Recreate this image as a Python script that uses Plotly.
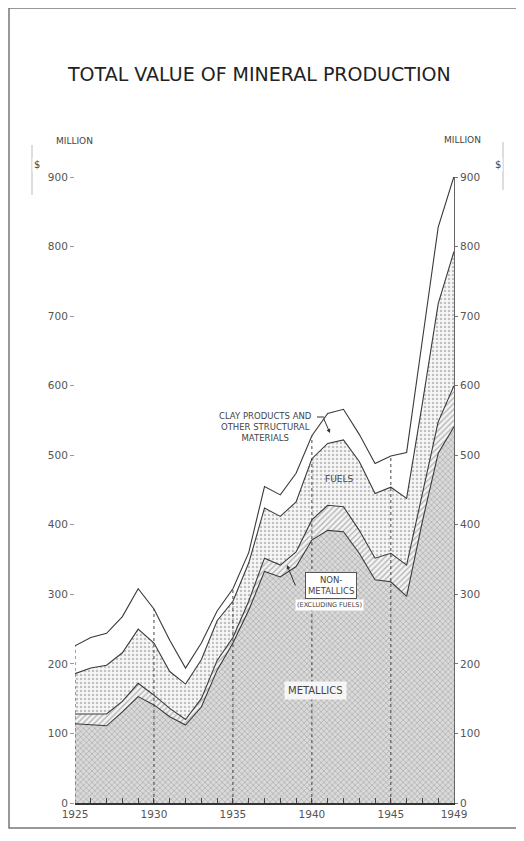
import plotly.graph_objects as go

# ---------------- data (million $) ----------------
years = list(range(1925, 1950))
metallics = [114, 112, 111, 131, 153, 141, 124, 112, 138, 191, 230, 277, 333,
             325, 340, 378, 392, 390, 359, 321, 318, 297, 405, 503, 541]
non_metallics = [14, 16, 17, 15, 19, 14, 12, 8, 12, 14, 8, 13, 19,
                 17, 21, 29, 36, 36, 33, 31, 41, 45, 40, 45, 59]
fuels = [58, 66, 70, 70, 78, 75, 53, 51, 56, 57, 52, 55, 72,
         70, 72, 88, 89, 96, 99, 93, 95, 96, 130, 170, 193]
clay_products = [40, 44, 46, 52, 58, 49, 45, 23, 24, 14, 18, 15, 31,
                 31, 41, 33, 43, 44, 39, 43, 45, 66, 91, 110, 108]
y_ticks = [0, 100, 200, 300, 400, 500, 600, 700, 800, 900]
x_label_years = [1925, 1930, 1935, 1940, 1945, 1949]
grid_years = [1925, 1930, 1935, 1940, 1945]

totals = [a + b + c + d for a, b, c, d in zip(metallics, non_metallics, fuels, clay_products)]

# ---------------- layout geometry (pixels) ----------------
OFF = 8                      # page body margin
W, H = 524 - OFF, 841 - OFF
L, R, T, B = 75 - OFF, 70, 177 - OFF, 38
PW, PH = W - L - R, H - T - B


def px(x):   # screen pixel x -> paper
    return (x - OFF - L) / PW


def py(y):   # screen pixel y -> paper
    return (H - B - (y - OFF)) / PH


def yr(x):   # screen pixel x -> year
    return 1925 + px(x) * 24


def val(y):  # screen pixel y -> value
    return py(y) * 900


LINE = "#3a3a3a"
TXT = "#555555"
FONT = "DejaVu Sans"

fig = go.Figure()

layers = [
    ("Metallics", metallics, dict(shape="x", size=4, solidity=0.28, fgcolor="#6e6e6e", bgcolor="#dadada")),
    ("Non-metallics (excluding fuels)", non_metallics, dict(shape="/", size=4, solidity=0.3, fgcolor="#6a6a6a", bgcolor="#f4f4f4")),
    ("Fuels", fuels, dict(shape=".", size=4, solidity=0.3, fgcolor="#8a8a8a", bgcolor="#f7f7f7")),
    ("Clay products and other structural materials", clay_products, None),
]
for name, vals, pat in layers:
    kw = dict(x=years, y=vals, name=name, mode="lines", stackgroup="one",
              line=dict(color=LINE, width=1.1), showlegend=False, hoverinfo="skip")
    if pat:
        kw["fillpattern"] = pat
        kw["fillcolor"] = pat["bgcolor"]
    else:
        kw["fillcolor"] = "white"
    fig.add_trace(go.Scatter(**kw))

# dotted vertical guide lines from base to total
gx, gy = [], []
for g in grid_years:
    i = years.index(g)
    gx += [g, g, None]
    gy += [0, totals[i], None]
fig.add_trace(go.Scatter(x=gx, y=gy, mode="lines", line=dict(color="#444444", width=1, dash="dot"),
                         showlegend=False, hoverinfo="skip"))

# right axis carrier trace
fig.add_trace(go.Scatter(x=[years[-1]], y=[0], yaxis="y2", mode="markers",
                         marker=dict(opacity=0), showlegend=False, hoverinfo="skip"))

fig.update_layout(
    width=W, height=H, margin=dict(l=L, r=R, t=T, b=B),
    paper_bgcolor="white", plot_bgcolor="white",
    font=dict(family=FONT, color=TXT, size=10),
    xaxis=dict(range=[1925, 1949], tickvals=years,
               ticktext=[str(y) if y in x_label_years else "" for y in years],
               ticks="inside", ticklen=5, tickcolor="#444", tickwidth=1,
               showline=True, linecolor="#333", linewidth=2, showgrid=False, zeroline=False,
               tickfont=dict(size=10.5, color=TXT, family=FONT)),
    yaxis=dict(range=[0, 900], tickvals=y_ticks, ticks="outside", ticklen=4, tickcolor="#999",
               showgrid=False, zeroline=False, showline=False,
               tickfont=dict(size=10.5, color=TXT, family=FONT)),
    yaxis2=dict(range=[0, 900], tickvals=y_ticks, overlaying="y", side="right", ticks="outside",
                ticklen=3, tickcolor="#777", showline=True, linecolor="#666", linewidth=1,
                showgrid=False, zeroline=False, tickfont=dict(size=10.5, color=TXT, family=FONT)),
)

ann = []
# title
ann.append(dict(text="TOTAL VALUE OF MINERAL PRODUCTION", x=px(259), y=py(61), xref="paper", yref="paper",
                showarrow=False, font=dict(size=19, color="#222", family=FONT)))
# unit labels
for cx, cy, dx in [(54, 134, 32), (483, 133, 503)]:
    ann.append(dict(text="MILLION", x=px(cx), y=py(cy), xref="paper", yref="paper", showarrow=False,
                    font=dict(size=9, color="#444", family=FONT)))
    ann.append(dict(text="$", x=px(dx), y=py(157), xref="paper", yref="paper", showarrow=False,
                    font=dict(size=10, color="#444", family=FONT), bgcolor="white"))
# clay label
ann.append(dict(text="CLAY PRODUCTS AND<br>OTHER STRUCTURAL<br>MATERIALS", x=yr(265), y=val(427),
                showarrow=False, font=dict(size=8.5, color="#444", family=FONT), align="center"))
ann.append(dict(text="", x=yr(330), y=val(433), ax=-7, ay=-16, showarrow=True, arrowhead=2,
                arrowsize=0.8, arrowwidth=1, arrowcolor="#333"))
# fuels label
ann.append(dict(text="FUELS", x=yr(339), y=val(479), showarrow=False,
                font=dict(size=9, color="#444", family=FONT)))
# non-metallics label
ann.append(dict(text="", x=yr(287), y=val(565), ax=9, ay=22, showarrow=True, arrowhead=2,
                arrowsize=0.8, arrowwidth=1, arrowcolor="#333"))
ann.append(dict(text="NON-<br>METALLICS", x=yr(331), y=val(585), showarrow=False, bgcolor="white",
                bordercolor="#555", borderwidth=1, borderpad=2,
                font=dict(size=8.5, color="#444", family=FONT)))
ann.append(dict(text="(EXCLUDING FUELS)", x=yr(329), y=val(605), showarrow=False, bgcolor="white",
                font=dict(size=6.5, color="#444", family=FONT)))
# metallics label
ann.append(dict(text="METALLICS", x=yr(315), y=val(690), showarrow=False, bgcolor="#f6f6f6",
                borderpad=3, font=dict(size=10, color="#444", family=FONT)))
fig.update_layout(annotations=ann)

shapes = [
    # outer frame
    dict(type="rect", xref="paper", yref="paper", x0=px(9), x1=px(521), y0=py(828), y1=py(8),
         line=dict(color="#777", width=1.5), fillcolor="rgba(0,0,0,0)", layer="below"),
    # vertical strokes through $ signs
    dict(type="line", xref="paper", yref="paper", x0=px(32), x1=px(32), y0=py(195), y1=py(145),
         line=dict(color="#bbb", width=1), layer="below"),
    dict(type="line", xref="paper", yref="paper", x0=px(503), x1=px(503), y0=py(190), y1=py(142),
         line=dict(color="#bbb", width=1), layer="below"),
    # clay pointer leader
    dict(type="line", xref="paper", yref="paper", x0=px(317), x1=px(324), y0=py(417), y1=py(417),
         line=dict(color="#333", width=1)),
]
fig.update_layout(shapes=shapes)

fig.write_html("out.html")
